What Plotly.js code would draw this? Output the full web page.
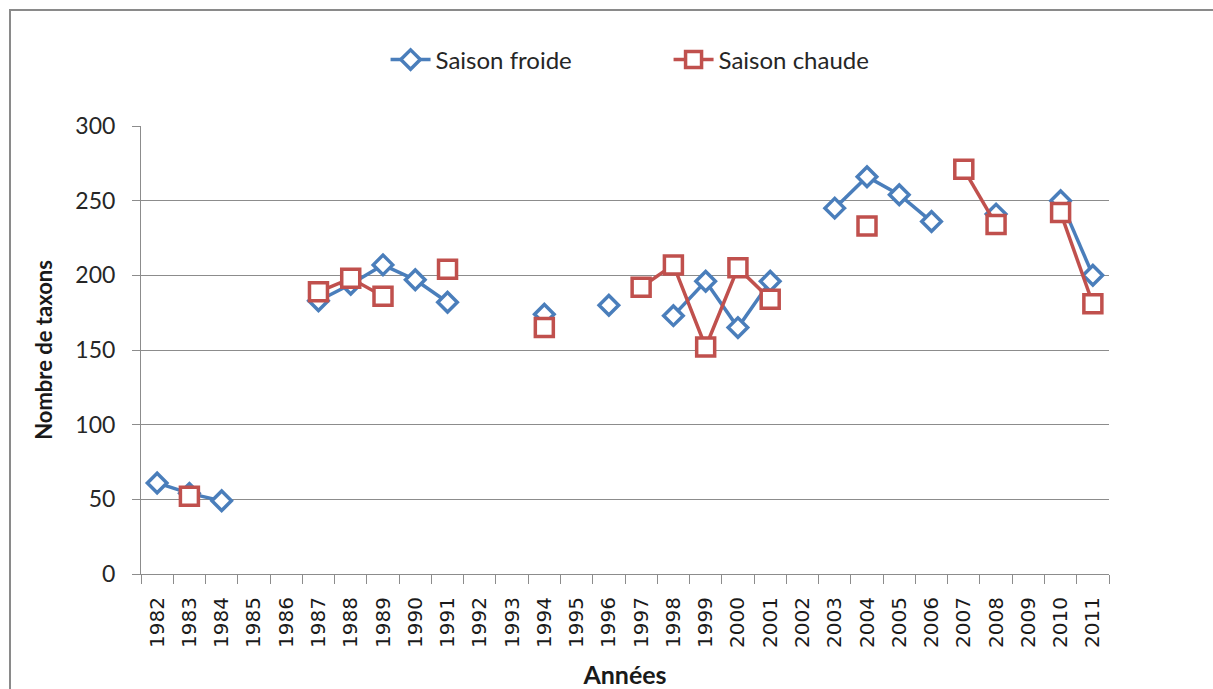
<!DOCTYPE html>
<html>
<head>
<meta charset="utf-8">
<script src="https://cdn.plot.ly/plotly-3.0.1.min.js"></script>
<style>
html,body{margin:0;padding:0;background:#fff;overflow:hidden;}
#wrap{position:relative;width:1213px;height:689px;}
#chart{position:absolute;left:0;top:0;width:1213px;height:689px;}
#frame{position:absolute;left:9px;top:9px;width:1220px;height:700px;border-left:2px solid #8a8a8a;border-top:2px solid #8a8a8a;pointer-events:none;}
</style>
</head>
<body>
<div id="wrap"><div id="chart"></div><div id="frame"></div></div>
<script>
const years = ["1982","1983","1984","1985","1986","1987","1988","1989","1990","1991","1992","1993","1994","1995","1996","1997","1998","1999","2000","2001","2002","2003","2004","2005","2006","2007","2008","2009","2010","2011"];
const saisonFroide = [61,54,49,null,null,183,194,207,197,182,null,null,174,null,180,null,173,196,165,196,null,245,266,254,236,null,241,null,250,200];
const saisonChaude = [null,52,null,null,null,189,198,186,null,204,null,null,165,null,null,192,207,152,205,184,null,null,233,null,null,271,234,null,242,181];
const seriesNames = ["Saison froide","Saison chaude"];

const blue = "#4a7ebb", red = "#c0504d", grid = "#8c8c8c";

const traces = [
  {x: years, y: saisonFroide, name: seriesNames[0], type: "scatter", mode: "lines+markers",
   line: {color: blue, width: 3.5}, connectgaps: false,
   marker: {symbol: "diamond", size: 15, color: "#ffffff", line: {color: blue, width: 3.5}}},
  {x: years, y: saisonChaude, name: seriesNames[1], type: "scatter", mode: "lines+markers",
   line: {color: red, width: 3.5}, connectgaps: false,
   marker: {symbol: "square", size: 18, color: "#ffffff", line: {color: red, width: 3.5}}}
];

const layout = {
  width: 1213, height: 689,
  margin: {l: 141, r: 104, t: 126, b: 115},
  paper_bgcolor: "#ffffff", plot_bgcolor: "#ffffff",
  font: {family: "Lato, 'Open Sans', sans-serif", color: "#262626"},
  showlegend: true,
  legend: {orientation: "h", x: 0.545, xanchor: "center", y: 0.147, yanchor: "middle",
           font: {family: "Lato, sans-serif", size: 24, color: "#262626"},
           itemwidth: 40, entrywidth: 228, bgcolor: "rgba(0,0,0,0)"},
  xaxis: {type: "category", range: [-0.5, 29.5], tickson: "boundaries",
          ticks: "outside", ticklen: 9, tickcolor: grid, tickwidth: 1,
          showline: true, linecolor: grid, linewidth: 1, showgrid: false, zeroline: false,
          tickangle: -90, ticklabelstandoff: 14,
          tickfont: {family: "'DejaVu Sans', sans-serif", size: 20, color: "#1a1a1a"},
          title: {text: "Années", font: {family: "Lato, sans-serif", size: 25, color: "#1a1a1a", weight: "bold"}, standoff: 22}},
  yaxis: {range: [0, 300], dtick: 50, tick0: 0,
          ticks: "outside", ticklen: 8, tickcolor: grid, tickwidth: 1,
          showline: true, linecolor: grid, linewidth: 1,
          showgrid: true, gridcolor: grid, gridwidth: 1, zeroline: false,
          ticklabelstandoff: 12,
          tickfont: {family: "Lato, sans-serif", size: 23, color: "#262626"},
          title: {text: "Nombre de taxons", font: {family: "Lato, sans-serif", size: 22, color: "#1a1a1a", weight: "bold"}, standoff: 16}}
};
layout.legend.y = 1 + (126 - 60) / 448;

Plotly.newPlot("chart", traces, layout, {displayModeBar: false, staticPlot: true});
</script>
</body>
</html>
